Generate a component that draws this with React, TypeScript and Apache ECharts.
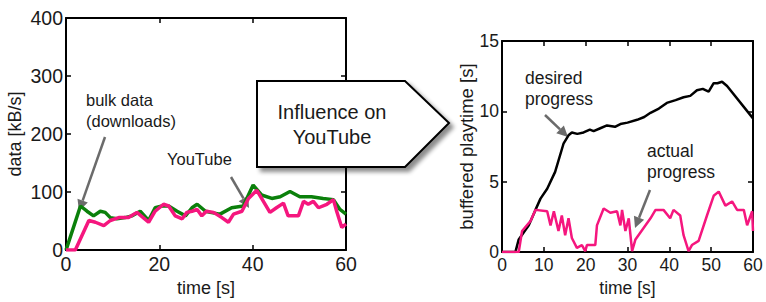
import React, { useEffect, useRef } from "react";
import * as echarts from "echarts";

// Left chart: throughput [kB/s] over time [s]
const bulkTime = [0, 3.1, 4.5, 5.9, 7.35, 8.4, 9.5, 10.9, 12.7, 14.1, 15.9, 17.7, 19.1, 20.6, 22, 23.8, 25.6, 27, 28.1, 29.9, 30.9, 33, 35.5, 38, 40.1, 41.9, 44.1, 45.9, 48, 50.1, 52.6, 55.1, 57.3, 58.7, 60];
const bulkRate = [0, 76, 67, 59, 67, 65, 56, 54, 56, 59, 67, 51, 73, 76, 76, 67, 59, 73, 79, 67, 65, 62, 73, 76, 112, 95, 89, 92, 101, 92, 92, 89, 87, 70, 62];
const ytTime = [0, 2, 4.9, 6.3, 8.1, 9.5, 11.3, 13.4, 15.2, 17.7, 19.1, 20.9, 22, 23.4, 24.9, 25.9, 27, 28.1, 29.1, 30.1, 31.6, 33.4, 34.8, 35.9, 37.7, 39.1, 40.9, 42.3, 43.7, 45.1, 46.6, 47.6, 49.8, 50.9, 51.9, 53, 54.1, 55.9, 57.3, 58, 59.1, 60];
const ytRate = [0, 0, 51, 48, 42, 51, 56, 56, 65, 48, 67, 79, 76, 59, 54, 65, 67, 70, 59, 67, 65, 56, 48, 62, 67, 89, 103, 84, 65, 73, 81, 59, 59, 84, 79, 84, 73, 79, 87, 67, 39, 45];

// Right chart: buffered playtime [s] over time [s]
const desiredTime = [0, 3.2, 4, 6.4, 8, 9.2, 10.8, 12.7, 14.7, 15.9, 16.7, 18, 19.5, 21, 21.9, 23.5, 25.1, 27, 28.3, 30, 32.3, 34, 35.5, 37.5, 39.4, 41.5, 43.4, 45, 46.6, 48, 49.4, 50.6, 51.5, 52.6, 53.8, 60];
const desiredBuf = [0, 0, 0.9, 1.9, 3.0, 3.8, 4.5, 5.7, 7.7, 8.3, 8.5, 8.4, 8.5, 8.7, 8.6, 8.8, 9.0, 8.9, 9.1, 9.2, 9.4, 9.6, 9.9, 10.2, 10.6, 10.8, 11.0, 11.1, 11.5, 11.6, 11.4, 12.0, 12.0, 12.1, 11.8, 9.5];
const actualTime = [0, 4, 4.8, 6.8, 8, 10.8, 11.6, 12.4, 13.5, 14.3, 15.1, 15.9, 16.7, 17.9, 19.1, 19.9, 20.3, 22.3, 22.7, 24.3, 25.9, 27.5, 28.3, 28.7, 29.5, 30.3, 31.1, 31.9, 35.5, 36.7, 38.6, 40.2, 41, 42.6, 43.4, 44.6, 45.4, 47, 49, 50.6, 51.8, 52.6, 53.4, 55, 56.2, 57.8, 58.6, 59.8, 60];
const actualBuf = [0, 0, 1.5, 2.2, 3.0, 2.9, 1.9, 2.9, 1.5, 2.6, 1.2, 2.4, 1.0, 0.3, 0.5, 0.07, 0.5, 0.5, 1.9, 3.1, 2.8, 2.9, 1.9, 3.0, 1.5, 2.4, 0.07, 0.9, 2.4, 3.0, 3.0, 2.4, 3.0, 2.6, 1.2, 0.07, 0.5, 0.8, 2.6, 4.0, 4.3, 3.8, 3.3, 3.6, 3.0, 3.0, 1.9, 2.9, 1.5];

const zip = (a: number[], b: number[]) => a.slice(0, Math.min(a.length, b.length)).map((x, i) => [x, b[i]]);

const FONT = "'Liberation Sans', Arial, sans-serif";
const TXT = "#1a1a1a";
const GREEN = "#0b800b";
const PINK = "#f5167e";
const ARROW = "#6b6b6b";

function arrow(x1: number, y1: number, x2: number, y2: number) {
  const dx = x2 - x1, dy = y2 - y1;
  const len = Math.sqrt(dx * dx + dy * dy);
  const ux = dx / len, uy = dy / len;
  const hl = 11, hw = 5.5;
  const bx = x2 - ux * hl, by = y2 - uy * hl;
  return {
    type: "group",
    z: 50,
    children: [
      { type: "line", shape: { x1, y1, x2: bx, y2: by }, style: { stroke: ARROW, lineWidth: 2.5 } },
      {
        type: "polygon",
        shape: { points: [[x2, y2], [bx - uy * hw, by + ux * hw], [bx + uy * hw, by - ux * hw]] },
        style: { fill: ARROW },
      },
    ],
  };
}

function label(text: string, x: number, y: number, size = 16) {
  return {
    type: "text",
    x,
    y,
    z: 50,
    style: { text, fill: TXT, font: `${size}px ${FONT}`, textAlign: "left", textVerticalAlign: "middle", lineHeight: 21 },
  };
}

export default function App() {
  const ref = useRef<HTMLDivElement>(null);
  useEffect(() => {
    if (!ref.current) return;
    const chart = echarts.init(ref.current, undefined, { renderer: "svg" });
    const axisLine = { show: true, onZero: false, lineStyle: { color: "#000", width: 2 } };
    const tick = { show: true, inside: true, length: 5, lineStyle: { color: "#000", width: 1.5 } };
    const lblL = { color: TXT, fontSize: 19.5, fontFamily: FONT };
    const lblR = { color: TXT, fontSize: 17.5, fontFamily: FONT };
    const nameStyle = { color: TXT, fontSize: 18, fontWeight: "normal", fontFamily: FONT };
    const option: any = {
      animation: false,
      backgroundColor: "#fff",
      grid: [
        { left: 66, top: 18, width: 280, height: 239, show: false },
        { left: 502, top: 41, width: 251, height: 213, show: false },
      ],
      xAxis: [
        { type: "value", gridIndex: 0, min: 0, max: 60, interval: 20, axisLine, axisTick: tick, splitLine: { show: false }, axisLabel: { ...lblL, margin: 4 }, name: "time [s]", nameLocation: "middle", nameGap: 28, nameTextStyle: nameStyle },
        { type: "value", gridIndex: 0, position: "top", min: 0, max: 60, interval: 20, axisLine, axisTick: tick, splitLine: { show: false }, axisLabel: { show: false } },
        { type: "value", gridIndex: 1, min: 0, max: 60, interval: 10, axisLine, axisTick: tick, splitLine: { show: false }, axisLabel: { ...lblR, margin: 4 }, name: "time [s]", nameLocation: "middle", nameGap: 25, nameTextStyle: { ...nameStyle, fontSize: 17.5 } },
        { type: "value", gridIndex: 1, position: "top", min: 0, max: 60, interval: 10, axisLine, axisTick: tick, splitLine: { show: false }, axisLabel: { show: false } },
      ],
      yAxis: [
        { type: "value", gridIndex: 0, min: 0, max: 400, interval: 100, axisLine, axisTick: tick, splitLine: { show: false }, axisLabel: { ...lblL, margin: 3 }, name: "data [kB/s]", nameLocation: "middle", nameGap: 42, nameTextStyle: nameStyle },
        { type: "value", gridIndex: 0, position: "right", min: 0, max: 400, interval: 100, axisLine, axisTick: tick, splitLine: { show: false }, axisLabel: { show: false } },
        { type: "value", gridIndex: 1, min: 0, max: 15, interval: 5, axisLine, axisTick: tick, splitLine: { show: false }, axisLabel: { ...lblR, margin: 3 }, name: "buffered playtime [s]", nameLocation: "middle", nameGap: 23, nameTextStyle: { ...nameStyle, fontSize: 18.5 } },
        { type: "value", gridIndex: 1, position: "right", min: 0, max: 15, interval: 5, axisLine, axisTick: tick, splitLine: { show: false }, axisLabel: { show: false } },
      ],
      series: [
        { type: "line", xAxisIndex: 0, yAxisIndex: 0, data: zip(bulkTime, bulkRate), showSymbol: false, lineStyle: { color: GREEN, width: 3.5 }, z: 3 },
        { type: "line", xAxisIndex: 0, yAxisIndex: 0, data: zip(ytTime, ytRate), showSymbol: false, lineStyle: { color: PINK, width: 3.5 }, z: 4 },
        { type: "line", xAxisIndex: 2, yAxisIndex: 2, data: zip(desiredTime, desiredBuf), showSymbol: false, lineStyle: { color: "#000", width: 2.5 }, z: 3 },
        { type: "line", xAxisIndex: 2, yAxisIndex: 2, data: zip(actualTime, actualBuf), showSymbol: false, lineStyle: { color: PINK, width: 2.5 }, z: 4 },
      ],
      graphic: [
        {
          type: "polygon",
          z: 60,
          shape: { points: [[257, 81], [405, 81], [449, 123], [405, 167], [257, 167]] },
          style: { fill: "#fff", stroke: "#000", lineWidth: 2, shadowBlur: 4, shadowOffsetX: 4, shadowOffsetY: 4, shadowColor: "rgba(0,0,0,0.45)" },
        },
        {
          type: "text",
          z: 61,
          x: 332,
          y: 124,
          style: { text: "Influence on\nYouTube", fill: TXT, font: `20px ${FONT}`, textAlign: "center", textVerticalAlign: "middle", lineHeight: 25 },
        },
        label("bulk data\n(downloads)", 86, 110, 16.5),
        arrow(105, 137, 79, 211),
        label("YouTube", 167, 159, 16.5),
        arrow(231, 177, 249, 208),
        label("desired\nprogress", 525, 88, 17.5),
        arrow(545, 115, 568, 137),
        label("actual\nprogress", 647, 161, 17.5),
        arrow(650, 190, 635, 228),
      ],
    };
    chart.setOption(option);
    return () => chart.dispose();
  }, []);
  return <div ref={ref} style={{ position: "fixed", left: 0, top: 0, width: 766, height: 302 }} />;
}
